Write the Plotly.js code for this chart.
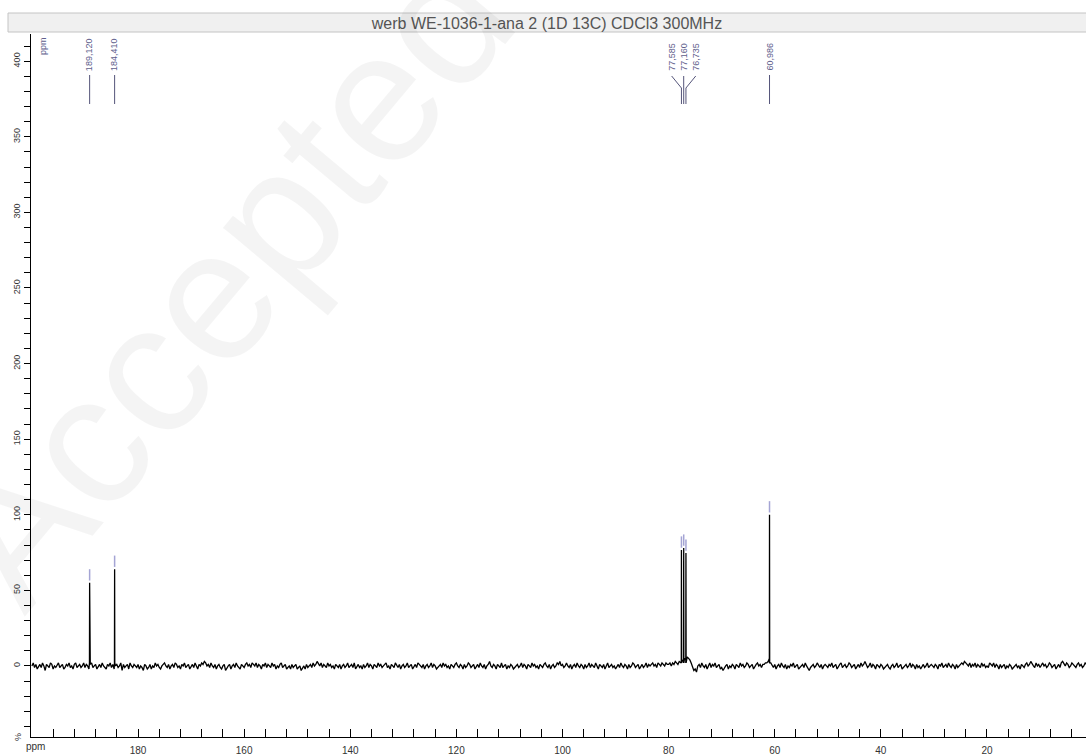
<!DOCTYPE html>
<html>
<head>
<meta charset="utf-8">
<script src="https://cdn.plot.ly/plotly-3.0.1.min.js"></script>
<style>html,body{margin:0;padding:0;background:#fff;}#chart{width:1086px;height:755px;}</style>
</head>
<body>
<div id="chart"></div>
<script>
// ---- data ----
const titleText = "werb WE-1036-1-ana 2 (1D 13C) CDCl3 300MHz";
const peakPpm = [189.120, 184.410, 77.585, 77.160, 76.735, 60.986];
const peakHeight = [55, 64, 76.7, 78, 74.7, 100];
// baseline (noise, %), every 0.25 ppm starting at 200 ppm
const baselineStart = 200;
const baselineStep = 0.25;
const baseline = [
 0,2,-1,1,-2,0,1,-1,2,0,-3,1,0,-1,2,1,-2,0,-1,1,2,-1,0,1,-2,-1,1,0,2,-1,0,-2,1,2,-1,0,1,-1,0,2,
 -1,1,0,-2,1,2,-1,0,1,-2,0,1,-1,2,0,-1,-2,1,0,2,-1,1,-2,0,1,-1,0,2,-3,1,-1,0,1,-2,2,0,-1,1,0,-1,
 1,-2,0,-1,-3,1,0,-2,-1,1,-2,0,-1,2,0,1,-1,-2,0,1,2,0,-1,1,-2,0,1,-1,2,1,-1,0,-2,1,0,2,-1,0,1,-2,
 0,1,-1,2,0,-2,1,0,2,1,3,2,0,1,-1,2,0,-1,1,-2,0,1,-1,-2,0,1,-3,-1,0,1,-2,0,1,-1,2,0,-1,-2,1,0,
 -1,1,2,0,1,-1,2,1,0,2,-1,1,0,-2,1,0,2,-1,1,0,-1,2,0,1,-2,0,-1,1,2,-1,0,1,-2,-1,0,-2,1,-1,0,1,
 -2,-1,0,-3,-1,0,-2,1,-1,0,1,-1,2,0,1,3,1,0,2,-1,1,0,-1,2,0,1,-1,0,-2,1,0,-1,1,-2,0,1,-1,0,2,-1,
 0,1,-1,2,-2,0,1,-1,0,-2,1,-1,0,2,-1,1,0,-2,1,0,-1,2,0,1,-1,0,1,2,-1,0,-2,1,0,-1,2,0,-1,1,-2,0,
 1,-1,0,2,-1,0,1,-2,0,1,-1,2,1,0,-1,1,-2,0,1,-1,0,2,-1,1,0,-2,-1,0,1,-1,2,0,1,-1,0,-2,1,0,-1,1,
 2,0,-1,1,0,-2,1,-1,0,2,1,-1,0,1,-2,0,1,-1,2,0,-1,1,-2,0,1,3,0,-1,1,0,-2,1,0,-1,2,-1,0,1,-2,0,
 -1,1,0,-2,-1,0,1,-1,0,2,-1,1,0,-2,1,0,-1,2,0,1,-1,0,-2,1,0,-1,1,2,0,-1,1,-2,0,1,-1,0,2,1,3,0,
 1,-1,0,2,0,-1,1,-2,0,1,-1,2,0,-1,1,0,-2,1,-1,0,2,-1,1,0,-1,2,0,-2,1,0,-1,1,-2,0,2,-1,0,1,-1,0,
 -2,0,1,-1,2,0,-1,1,0,-2,1,-1,0,2,1,-1,0,1,-2,0,1,-1,0,2,-1,1,0,1,2,0,1,-1,2,1,0,2,1,0,2,1,
 1,2,0,2,1,3,2,1,3,2,4,3,5,4,6,5,4,2,0,-3,-2,-4,0,1,-1,2,0,-1,1,-2,0,2,-1,1,0,2,-1,0,1,-2,
 -1,-3,-1,0,1,-2,0,-1,1,0,-2,1,0,-1,2,0,1,-1,0,2,1,-1,0,1,-2,0,1,2,0,1,-1,1,1,2,2,3,5,2,0,-1,
 1,-2,0,1,-1,2,0,-1,1,-2,0,-1,1,0,2,-1,0,1,-2,-1,0,1,-1,2,0,-2,-3,-1,0,1,-1,0,2,0,-1,1,-2,0,1,0,
 -1,1,0,2,-1,0,1,-2,0,1,2,-1,0,1,-1,0,2,1,-1,0,1,-2,0,1,-1,2,0,1,3,1,-1,0,2,-1,1,0,-2,1,0,-1,
 1,0,-2,-1,0,1,-1,-2,0,1,-1,0,2,-1,0,1,-2,-1,0,1,-1,0,2,-1,1,0,-2,1,-1,0,-2,0,1,-1,0,2,-1,0,1,0,
 -1,1,0,-2,1,0,2,-1,0,1,-1,2,0,-1,1,0,-2,1,-1,0,1,2,1,3,2,1,0,2,-1,1,0,2,-1,1,0,-1,2,0,1,-1,
 0,-1,2,1,0,2,-1,1,0,-2,1,-1,0,1,-2,0,-1,1,0,-2,-1,0,1,-1,0,-2,1,0,-1,1,2,0,1,3,1,0,-1,2,0,1,
 -1,1,2,0,1,-1,0,2,1,-1,0,1,-2,0,1,-1,2,3,1,0,2,1,-1,0,2,1,0,-1,1,2,0,1,-1,0,2,1,-1,0,1,0
];
const xTickVals = [180,160,140,120,100,80,60,40,20];
const yTickVals = [0,50,100,150,200,250,300,350,400];

// ---- build spectrum trace (baseline + peak spikes) ----
const xs = [], ys = [];
let pi = 0;
const order = peakPpm.map((p,i)=>i).sort((a,b)=>peakPpm[b]-peakPpm[a]);
for (let k = 0; k < baseline.length; k++) {
  const ppm = baselineStart - k*baselineStep;
  while (pi < order.length && peakPpm[order[pi]] > ppm) {
    const idx = order[pi];
    const p = peakPpm[idx];
    xs.push(p+0.03); ys.push(2);
    xs.push(p); ys.push(peakHeight[idx]);
    xs.push(p-0.03); ys.push(2);
    pi++;
  }
  xs.push(ppm); ys.push(baseline[k]);
}

// ---- geometry helpers (pixels -> paper) ----
const L = 31, T = 34, W = 1055, H = 703;
const px = v => (v - L) / W;
const py = v => (T + H - v) / H;

const shapes = [];
const annotations = [];
const font = 'Liberation Sans, Arial, sans-serif';

// title bar
shapes.push({type:'rect', xref:'paper', yref:'paper', x0:px(8), x1:px(1090), y0:py(13), y1:py(32),
  fillcolor:'#f0f0f0', line:{color:'#c4c4c4', width:1}, layer:'below'});

// peak labels (clusters spread)
const labelColor = '#5e5e8c';
const clusters = [];
peakPpm.forEach((p,i)=>{
  const last = clusters[clusters.length-1];
  if (last && Math.abs(peakPpm[last[last.length-1]] - p) < 1) last.push(i); else clusters.push([i]);
});
const spread = 2.27;
clusters.forEach(cl=>{
  const center = cl.reduce((s,i)=>s+peakPpm[i],0)/cl.length;
  cl.forEach((i,j)=>{
    const p = peakPpm[i];
    const lx = cl.length > 1 ? center + ((cl.length-1)/2 - j)*spread : p;
    annotations.push({xref:'x', yref:'paper', x:lx, y:py(73), yanchor:'bottom', xanchor:'center',
      text:p.toFixed(3).replace('.',','), textangle:-90, showarrow:false,
      font:{family:font, size:9, color:labelColor}});
    if (cl.length > 1) {
      shapes.push({type:'line', xref:'x', yref:'paper', x0:lx, x1:p, y0:py(76), y1:py(88), line:{color:'#55557a', width:1}});
      shapes.push({type:'line', xref:'x', yref:'paper', x0:p, x1:p, y0:py(88), y1:py(104), line:{color:'#55557a', width:1}});
    } else {
      shapes.push({type:'line', xref:'x', yref:'paper', x0:p, x1:p, y0:py(75), y1:py(104), line:{color:'#55557a', width:1}});
    }
    // short marker above peak top
    shapes.push({type:'line', xref:'x', yref:'y', x0:p, x1:p, y0:peakHeight[i]+1.5, y1:peakHeight[i]+9,
      line:{color:'#a4a4d4', width:1.5}});
  });
});

// axis unit labels
annotations.push({xref:'paper', yref:'paper', x:px(43), y:py(46), xanchor:'center', yanchor:'middle', text:'ppm', textangle:-90, showarrow:false,
  font:{family:font, size:9, color:labelColor}});
annotations.push({xref:'paper', yref:'paper', x:px(24), y:py(746), xanchor:'left', yanchor:'middle', text:'ppm', showarrow:false,
  font:{family:font, size:10, color:'#333'}});
annotations.push({xref:'paper', yref:'paper', x:px(18), y:py(737), xanchor:'center', yanchor:'middle', text:'%', textangle:-90, showarrow:false,
  font:{family:font, size:9, color:'#333'}});
// watermark
annotations.push({xref:'paper', yref:'paper', x:px(224), y:py(278), xanchor:'center', yanchor:'middle', text:'Accepted', textangle:-50, showarrow:false,
  font:{family:font, size:186, color:'rgba(0,0,0,0.045)'}});

const trace = {x:xs, y:ys, type:'scatter', mode:'lines', line:{color:'#000', width:1.3}, hoverinfo:'skip'};

const layout = {
  width:1086, height:755,
  margin:{l:L, r:0, t:T, b:755-T-H},
  paper_bgcolor:'#fff', plot_bgcolor:'#fff',
  showlegend:false,
  title:{text:titleText, x:547/1086, xref:'container', xanchor:'center', y:1-23/755, yanchor:'middle',
    font:{family:font, size:16, color:'#555'}},
  xaxis:{range:[200.17, 1.34], showgrid:false, zeroline:false, showline:true, linecolor:'#000', linewidth:1,
    tickmode:'array', tickvals:xTickVals, ticks:'inside', ticklen:8, tickcolor:'#000',
    minor:{dtick:4, ticks:'inside', ticklen:8, tickcolor:'#000', showgrid:false},
    tickfont:{family:font, size:10, color:'#333'}, ticklabelstandoff:4},
  yaxis:{range:[-47, 418], showgrid:false, zeroline:false, showline:true, linecolor:'#000', linewidth:1,
    tickmode:'array', tickvals:yTickVals, ticks:'outside', ticklen:6, tickcolor:'#000', tickangle:-90,
    minor:{dtick:10, ticks:'outside', ticklen:6, tickcolor:'#000', showgrid:false},
    tickfont:{family:font, size:9, color:'#333'}, ticklabelstandoff:0},
  shapes:shapes, annotations:annotations
};
Plotly.newPlot('chart', [trace], layout, {displayModeBar:false, staticPlot:true});
</script>
</body>
</html>
